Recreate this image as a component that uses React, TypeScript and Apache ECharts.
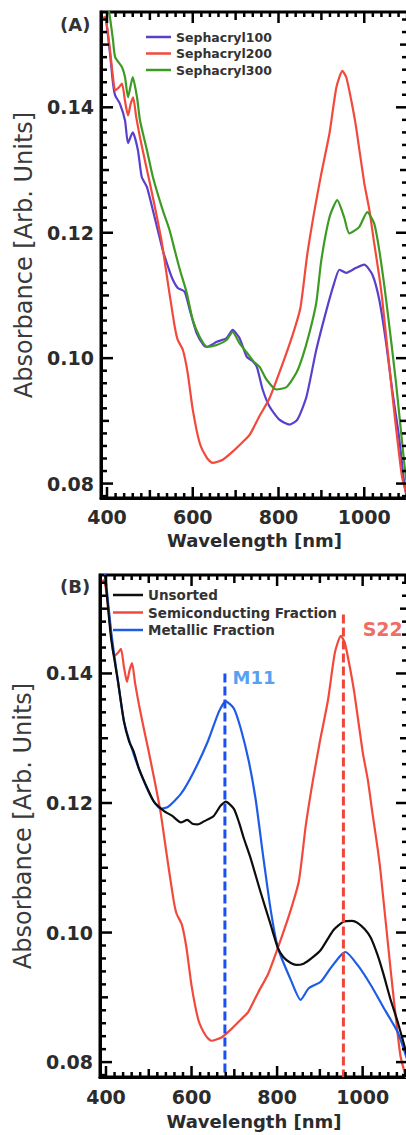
import React, { useEffect, useRef } from "react";
import * as echarts from "echarts";

// ---------- data (wavelength nm, absorbance) ----------
const sephacryl100: [number, number][] = [
  [397, 0.1545], [407, 0.1486], [414, 0.1438], [419, 0.1419], [430, 0.1406], [442, 0.1379],
  [449, 0.1343], [460, 0.136], [472, 0.1332], [481, 0.1289], [493, 0.1273], [507, 0.1236],
  [530, 0.1172], [535, 0.1161], [551, 0.1129], [565, 0.1112], [581, 0.1106], [593, 0.1077],
  [609, 0.104], [626, 0.102], [633, 0.1018], [656, 0.1026], [679, 0.1032], [693, 0.1045],
  [709, 0.1032], [726, 0.1002], [740, 0.0995], [750, 0.0985], [763, 0.095], [779, 0.0923],
  [802, 0.0902], [826, 0.0894], [844, 0.0902], [865, 0.0938], [888, 0.1013], [912, 0.1077],
  [930, 0.112], [942, 0.1141], [958, 0.1136], [981, 0.1144], [1000, 0.1149], [1019, 0.1133],
  [1035, 0.1093], [1051, 0.1024], [1065, 0.095], [1081, 0.0875], [1093, 0.0802], [1102, 0.0765],
];

const sephacryl200: [number, number][] = [
  [392, 0.1545], [398, 0.1538], [407, 0.1491], [414, 0.1448], [419, 0.1427], [428, 0.1432],
  [435, 0.1438], [442, 0.141], [449, 0.1387], [455, 0.1405], [461, 0.1416], [468, 0.1385],
  [477, 0.1352], [490, 0.131], [500, 0.1279], [515, 0.123], [528, 0.1184], [542, 0.112],
  [558, 0.105], [565, 0.1029], [577, 0.1013], [588, 0.0977], [600, 0.0918], [616, 0.0865],
  [633, 0.0841], [646, 0.0833], [670, 0.0838], [693, 0.0851], [716, 0.0866], [733, 0.0878],
  [756, 0.0908], [779, 0.0936], [809, 0.099], [832, 0.1035], [851, 0.108],
  [867, 0.1165], [884, 0.1236], [900, 0.1295], [919, 0.1359], [935, 0.1432], [949, 0.1458],
  [958, 0.1448], [970, 0.141], [981, 0.1368], [1000, 0.1279], [1012, 0.1236], [1023, 0.1184],
  [1035, 0.113], [1042, 0.1093], [1065, 0.0945], [1088, 0.0811], [1102, 0.0775],
];

const sephacryl300: [number, number][] = [
  [403, 0.156], [407, 0.1543], [414, 0.1507], [419, 0.148], [435, 0.1464], [442, 0.1448],
  [449, 0.1416], [460, 0.1448], [470, 0.1416], [477, 0.1379], [493, 0.1332], [507, 0.1289],
  [530, 0.1236], [546, 0.1204], [558, 0.1172], [570, 0.1141], [586, 0.1104], [600, 0.1061],
  [616, 0.1034], [633, 0.1018], [656, 0.1021], [679, 0.1029], [693, 0.1042], [709, 0.1024],
  [726, 0.1009], [744, 0.0993], [756, 0.0986], [772, 0.0966], [795, 0.095], [819, 0.0954],
  [842, 0.0977], [856, 0.1002], [872, 0.104], [888, 0.1088], [900, 0.1157], [919, 0.1225],
  [937, 0.1252], [953, 0.1225], [965, 0.1199], [988, 0.1209], [1007, 0.1233], [1023, 0.1215],
  [1035, 0.1172], [1051, 0.1093], [1074, 0.0961], [1093, 0.0834], [1102, 0.0785],
];

const unsorted: [number, number][] = [
  [398, 0.1552], [412, 0.1454], [428, 0.1388], [442, 0.1326], [454, 0.1295], [465, 0.1279],
  [477, 0.1253], [493, 0.1228], [512, 0.1202], [535, 0.1188], [555, 0.118], [575, 0.117],
  [590, 0.1174], [602, 0.1168], [615, 0.1167], [630, 0.1172], [652, 0.118], [668, 0.1196],
  [680, 0.1202], [699, 0.1191], [711, 0.117], [722, 0.1146], [738, 0.1115], [762, 0.1061],
  [785, 0.1012], [802, 0.0976], [815, 0.0962], [832, 0.0953], [845, 0.095], [862, 0.0952],
  [880, 0.096], [902, 0.0973], [932, 0.1004], [956, 0.1017], [975, 0.1018], [988, 0.1015],
  [1005, 0.1005], [1019, 0.0992], [1035, 0.0965], [1049, 0.0935], [1065, 0.0897],
  [1082, 0.0862], [1106, 0.0805],
];

const semiconducting: [number, number][] = sephacryl200;

const metallic: [number, number][] = [
  [398, 0.1555], [412, 0.1465], [428, 0.1388], [442, 0.1326], [465, 0.1275], [489, 0.1233],
  [512, 0.1202], [528, 0.1191], [545, 0.1194], [575, 0.1214], [605, 0.1248], [638, 0.1295],
  [664, 0.1341], [680, 0.1357], [699, 0.1346], [715, 0.1315], [734, 0.1264], [750, 0.1205],
  [767, 0.112], [785, 0.1035], [802, 0.0976], [832, 0.0927], [855, 0.0896], [874, 0.0914],
  [902, 0.0924], [925, 0.0945], [949, 0.0965], [960, 0.097], [988, 0.095], [1019, 0.0919],
  [1049, 0.0884], [1082, 0.0846], [1106, 0.08],
];

// peak markers
const m11Line: [number, number][] = [[678, 0.14], [678, 0.0777]];
const s22Line: [number, number][] = [[955, 0.1491], [955, 0.0777]];
const m11Label: [number, number][] = [[696, 0.1394]];
const s22Label: [number, number][] = [[1000, 0.1468]];

// ticks
const xMajorTicks = [400, 600, 800, 1000];
const xMidTicks = [500, 700, 900, 1100];
const xMinorTicks = Array.from({ length: 36 }, (_, i) => 380 + i * 20).filter((v) => v % 100 !== 0);
const yMajorTicks = [0.08, 0.1, 0.12, 0.14];
const yMidTicks = [0.09, 0.11, 0.13, 0.15];
const yMinorTicks = Array.from({ length: 39 }, (_, i) => +(0.078 + i * 0.002).toFixed(3)).filter(
  (v) => Math.round(v * 1000) % 10 !== 0
);

const Y_MIN = 0.0777;
const Y_MAX = 0.1552;
const X_RANGES: [number, number][] = [
  [386, 1102],
  [386, 1106],
];

const FONT = "DejaVu Sans";
const TXT = "#2b2b2b";

const xTickSpec: [number, number][] = [
  ...xMajorTicks.map((v) => [v, 11] as [number, number]),
  ...xMidTicks.map((v) => [v, 8] as [number, number]),
  ...xMinorTicks.map((v) => [v, 5] as [number, number]),
];
const yTickSpec: [number, number][] = [
  ...yMajorTicks.map((v) => [v, 12] as [number, number]),
  ...yMidTicks.map((v) => [v, 8] as [number, number]),
  ...yMinorTicks.map((v) => [v, 6] as [number, number]),
];

function xAxisFor(g: number, labelMargin: number, nameGap: number) {
  const [min, max] = X_RANGES[g];
  return {
    type: "value",
    gridIndex: g,
    min,
    max,
    position: "bottom",
    splitLine: { show: false },
    axisLine: { show: true, onZero: false, lineStyle: { color: "#000", width: 3 } },
    axisTick: { show: false },
    axisLabel: {
      show: true,
      customValues: xMajorTicks,
      formatter: (v: number) => String(Math.round(v)),
      margin: labelMargin,
      fontFamily: FONT,
      fontWeight: "bold",
      fontSize: 19,
      color: TXT,
    },
    name: "Wavelength [nm]",
    nameLocation: "middle",
    nameGap,
    nameTextStyle: { fontFamily: FONT, fontWeight: "bold", fontSize: 18, color: TXT },
  };
}

function yAxisFor(g: number) {
  return {
    type: "value",
    gridIndex: g,
    min: Y_MIN,
    max: Y_MAX,
    position: "left",
    splitLine: { show: false },
    axisLine: { show: true, onZero: false, lineStyle: { color: "#000", width: 3 } },
    axisTick: { show: false },
    axisLabel: {
      show: true,
      customValues: yMajorTicks,
      margin: 7,
      formatter: (v: number) => v.toFixed(2),
      fontFamily: FONT,
      fontWeight: "bold",
      fontSize: 19,
      color: TXT,
    },
    name: "Absorbance [Arb. Units]",
    nameLocation: "middle",
    nameGap: 60,
    nameTextStyle: { fontFamily: FONT, fontSize: 24, color: "#3a3a3a" },
  };
}

function lineSeries(name: string, data: [number, number][], color: string, g: number) {
  return {
    name,
    type: "line",
    xAxisIndex: g,
    yAxisIndex: g,
    data,
    showSymbol: false,
    symbol: "none",
    smooth: 0.2,
    clip: true,
    lineStyle: { color, width: 2.2 },
    itemStyle: { color },
  };
}

export default function App() {
  const ref = useRef<HTMLDivElement>(null);
  useEffect(() => {
    if (!ref.current) return;
    const chart = echarts.init(ref.current, null, { renderer: "svg" });
    const C100 = "#5a3fcc";
    const C200 = "#f2493c";
    const C300 = "#3d9a22";
    const CBLK = "#0d0d0d";
    const CBLU = "#1f5ce6";
    const gridBase = { show: true, borderColor: "#000", borderWidth: 3, backgroundColor: "transparent" };
    const labels = [
      { type: "text", left: 60, top: 15, style: { text: "(A)", font: `bold 18px "${FONT}"`, fill: "#333" } },
      { type: "text", left: 60, top: 577, style: { text: "(B)", font: `bold 18px "${FONT}"`, fill: "#333" } },
    ];
    chart.setOption({
      animation: false,
      backgroundColor: "#ffffff",
      grid: [
        { ...gridBase, left: 101, top: 12, right: 4, height: 486 },
        { ...gridBase, left: 100, top: 575, right: 4, height: 502 },
      ],
      xAxis: [xAxisFor(0, 9, 33), xAxisFor(1, 10, 35)],
      yAxis: [yAxisFor(0), yAxisFor(1)],
      legend: [
        {
          data: ["Sephacryl100", "Sephacryl200", "Sephacryl300"],
          orient: "vertical",
          left: 146,
          top: 30,
          padding: 0,
          icon: "rect",
          itemWidth: 25,
          itemHeight: 2.5,
          itemGap: 2.5,
          textStyle: { fontFamily: FONT, fontWeight: "bold", fontSize: 12.5, lineHeight: 14, color: "#333" },
        },
        {
          data: ["Unsorted", "Semiconducting Fraction", "Metallic Fraction"],
          orient: "vertical",
          left: 113,
          top: 587.5,
          padding: 0,
          icon: "rect",
          itemWidth: 30,
          itemHeight: 2.5,
          itemGap: 2.5,
          textStyle: { fontFamily: FONT, fontWeight: "bold", fontSize: 13.5, lineHeight: 15, color: "#333" },
        },
      ],
      graphic: labels,
      series: [
        lineSeries("Sephacryl100", sephacryl100, C100, 0),
        lineSeries("Sephacryl200", sephacryl200, C200, 0),
        lineSeries("Sephacryl300", sephacryl300, C300, 0),
        lineSeries("Semiconducting Fraction", semiconducting, C200, 1),
        lineSeries("Metallic Fraction", metallic, CBLU, 1),
        lineSeries("Unsorted", unsorted, CBLK, 1),
        {
          name: "M11 marker",
          type: "line",
          xAxisIndex: 1,
          yAxisIndex: 1,
          data: m11Line,
          symbol: "none",
          lineStyle: { color: "#1a4ff0", width: 3, type: [9, 4] },
        },
        {
          name: "S22 marker",
          type: "line",
          xAxisIndex: 1,
          yAxisIndex: 1,
          data: s22Line,
          symbol: "none",
          lineStyle: { color: "#f0463a", width: 3, type: [9, 4] },
        },
        {
          name: "M11",
          type: "scatter",
          xAxisIndex: 1,
          yAxisIndex: 1,
          data: m11Label,
          symbolSize: 0,
          label: {
            show: true,
            position: "right",
            distance: 0,
            formatter: "M11",
            fontFamily: FONT,
            fontWeight: "bold",
            fontSize: 18,
            color: "#2a86ee",
          },
        },
        {
          name: "S22",
          type: "scatter",
          xAxisIndex: 1,
          yAxisIndex: 1,
          data: s22Label,
          symbolSize: 0,
          label: {
            show: true,
            position: "right",
            distance: 0,
            formatter: "S22",
            fontFamily: FONT,
            fontWeight: "bold",
            fontSize: 19,
            color: "#ef4438",
          },
        },
      ],
    });

    // tick marks on all four sides, positioned through the axes' own scales
    const ticks: any[] = [];
    for (let g = 0; g < 2; g++) {
      const [xmin, xmax] = X_RANGES[g];
      const finder = { xAxisIndex: g, yAxisIndex: g };
      for (const [v, len] of xTickSpec) {
        if (v < xmin || v > xmax) continue;
        const pb = chart.convertToPixel(finder, [v, Y_MIN]) as number[];
        const pt = chart.convertToPixel(finder, [v, Y_MAX]) as number[];
        if (!pb || !pt) continue;
        ticks.push({ type: "line", silent: true, z: 10, shape: { x1: pb[0], y1: pb[1], x2: pb[0], y2: pb[1] - len }, style: { stroke: "#000", lineWidth: 2.5 } });
        ticks.push({ type: "line", silent: true, z: 10, shape: { x1: pt[0], y1: pt[1], x2: pt[0], y2: pt[1] + len }, style: { stroke: "#000", lineWidth: 2.5 } });
      }
      for (const [v, len] of yTickSpec) {
        if (v < Y_MIN || v > Y_MAX) continue;
        const pl = chart.convertToPixel(finder, [xmin, v]) as number[];
        const pr = chart.convertToPixel(finder, [xmax, v]) as number[];
        if (!pl || !pr) continue;
        ticks.push({ type: "line", silent: true, z: 10, shape: { x1: pl[0], y1: pl[1], x2: pl[0] + len, y2: pl[1] }, style: { stroke: "#000", lineWidth: 2.5 } });
        ticks.push({ type: "line", silent: true, z: 10, shape: { x1: pr[0], y1: pr[1], x2: pr[0] - len, y2: pr[1] }, style: { stroke: "#000", lineWidth: 2.5 } });
      }
    }
    chart.setOption({ graphic: [...labels, ...ticks] });

    return () => chart.dispose();
  }, []);
  return (
    <div style={{ position: "absolute", left: 0, top: 0, width: 406, height: 1135, overflow: "hidden", background: "#fff" }}>
      <div ref={ref} style={{ width: 412, height: 1135 }} />
    </div>
  );
}
